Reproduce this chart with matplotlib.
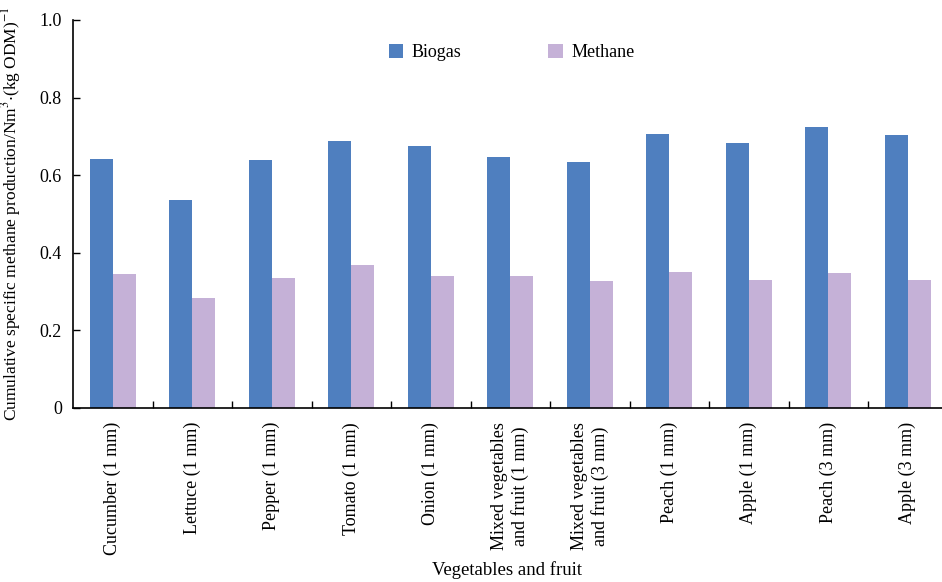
import numpy as np
import matplotlib.pyplot as plt

plt.rcParams['font.family'] = ['Liberation Serif', 'DejaVu Serif']
plt.rcParams['mathtext.fontset'] = 'stix'

# Data
categories = ['Cucumber (1 mm)', 'Lettuce (1 mm)', 'Pepper (1 mm)', 'Tomato (1 mm)',
              'Onion (1 mm)', 'Mixed vegetables\nand fruit (1 mm)',
              'Mixed vegetables\nand fruit (3 mm)', 'Peach (1 mm)', 'Apple (1 mm)',
              'Peach (3 mm)', 'Apple (3 mm)']
biogas = [0.642, 0.536, 0.639, 0.689, 0.674, 0.647, 0.633, 0.706, 0.683, 0.723, 0.704]
methane = [0.345, 0.284, 0.336, 0.368, 0.339, 0.339, 0.327, 0.351, 0.330, 0.348, 0.330]

fig = plt.figure(figsize=(9.42, 5.82), dpi=100)
ax = fig.add_axes([73 / 942, 1 - 408 / 582, 1 - 73 / 942, (408 - 20) / 582])

x = np.arange(len(categories))
w = 0.29
ax.bar(x - w / 2, biogas, w, color='#4F7FBF', label='Biogas')
ax.bar(x + w / 2, methane, w, color='#C5B1D7', label='Methane')

ax.set_xlim(-0.5, 10.43)
ax.set_ylim(0, 1.0)
ax.set_yticks([0, 0.2, 0.4, 0.6, 0.8, 1.0])
ax.set_yticklabels(['0', '0.2', '0.4', '0.6', '0.8', '1.0'], fontsize=13)

# category labels, ticks sit on group boundaries
ax.set_xticks(x)
ax.set_xticklabels(categories, rotation=90, fontsize=13, va='top', ha='center',
                   multialignment='center')
ax.tick_params(axis='x', which='major', length=0, pad=10)
ax.set_xticks(np.arange(0.5, 10.5, 1), minor=True)
ax.tick_params(axis='x', which='minor', direction='in', length=5, width=1)
ax.tick_params(axis='y', direction='in', length=5, width=1, pad=8)

ax.spines['top'].set_visible(False)
ax.spines['right'].set_visible(False)
ax.spines['left'].set_linewidth(1.2)
ax.spines['bottom'].set_linewidth(1.2)

ax.set_ylabel('Cumulative specific methane production/Nm$^{3}$$\\cdot$(kg ODM)$^{-1}$',
              fontsize=12.5, labelpad=12)
ax.set_xlabel('Vegetables and fruit', fontsize=13.5, labelpad=4)

ax.legend(loc='upper center', bbox_to_anchor=(0.505, 0.98), ncol=2, frameon=False,
          fontsize=13, handlelength=0.8, handleheight=0.8, columnspacing=4.8,
          handletextpad=0.5)

fig.savefig('out.png', dpi=100)
